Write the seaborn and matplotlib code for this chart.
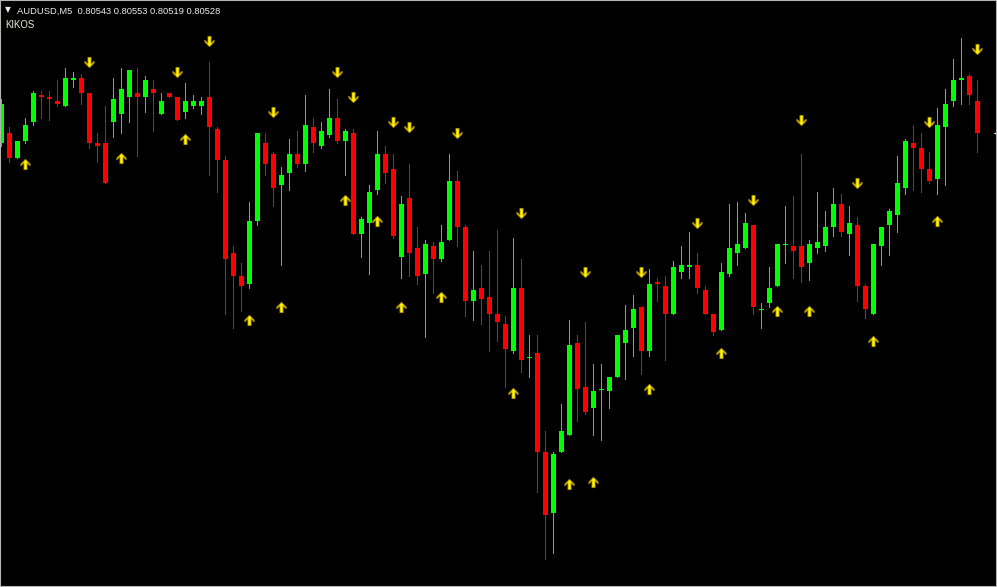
import numpy as np
import pandas as pd
import matplotlib
matplotlib.use("Agg")
import matplotlib.pyplot as plt
from matplotlib.path import Path
import seaborn as sns

symbol = "AUDUSD,M5"
indicator = "KIKOS"
base = 0.80000
point = 0.00001

# M5 bars, oldest first, prices in points above 0.80000
opens = [523, 528, 516, 524, 533, 546, 545, 543, 541, 553,
         554, 547, 523, 523, 533, 537, 545, 547, 545, 549,
         537, 547, 545, 538, 541, 541, 545, 530, 515, 471,
         460, 456, 486, 523, 518, 503, 509, 518, 513, 531,
         522, 527, 535, 524, 528, 480, 485, 501, 518, 511,
         469, 497, 473, 461, 474, 468, 477, 505, 483, 448,
         454, 450, 442, 437, 424, 454, 421, 423, 376, 347,
         376, 384, 428, 407, 397, 406, 405, 412, 428, 435,
         445, 424, 457, 455, 442, 462, 464, 465, 453, 442,
         434, 461, 471, 473, 484, 444, 447, 455, 475, 474,
         474, 466, 473, 474, 483, 494, 480, 484, 455, 442,
         474, 484, 489, 502, 523, 521, 511, 506, 531, 543,
         553, 555, 543]
highs = [544, 531, 524, 535, 548, 548, 548, 553, 559, 557,
         556, 547, 528, 541, 554, 559, 558, 559, 555, 553,
         547, 547, 545, 552, 546, 545, 562, 531, 517, 474,
         466, 495, 528, 528, 519, 512, 525, 529, 546, 535,
         533, 549, 544, 530, 530, 488, 503, 529, 522, 518,
         498, 513, 483, 477, 476, 484, 518, 510, 484, 472,
         465, 472, 482, 441, 478, 468, 432, 432, 386, 376,
         399, 439, 432, 438, 418, 418, 412, 432, 446, 451,
         445, 463, 459, 460, 467, 474, 481, 471, 455, 442,
         466, 494, 495, 490, 484, 447, 464, 475, 493, 498,
         518, 477, 500, 491, 502, 499, 493, 488, 456, 475,
         483, 492, 517, 525, 532, 528, 519, 540, 549, 563,
         573, 556, 553]
lows = [522, 514, 516, 523, 532, 535, 534, 541, 541, 550,
        542, 521, 514, 504, 526, 528, 533, 517, 538, 529,
        537, 545, 534, 535, 540, 537, 508, 500, 442, 435,
        443, 454, 484, 508, 493, 465, 501, 512, 510, 519,
        521, 526, 523, 508, 480, 469, 461, 499, 504, 478,
        459, 460, 456, 431, 452, 467, 477, 474, 441, 439,
        437, 424, 429, 407, 423, 414, 412, 357, 325, 328,
        376, 384, 391, 394, 384, 382, 397, 412, 411, 422,
        413, 422, 448, 420, 442, 459, 459, 452, 442, 432,
        434, 460, 465, 473, 442, 435, 445, 455, 466, 459,
        457, 458, 471, 472, 479, 479, 470, 448, 440, 442,
        465, 470, 481, 499, 501, 500, 504, 499, 503, 541,
        542, 542, 519]
closes = [542, 516, 524, 532, 547, 545, 544, 542, 554, 554,
          547, 523, 522, 504, 544, 549, 558, 545, 553, 547,
          543, 545, 534, 543, 543, 543, 531, 515, 468, 460,
          455, 486, 528, 513, 502, 508, 518, 513, 532, 523,
          529, 535, 524, 529, 480, 487, 500, 518, 509, 479,
          494, 471, 460, 475, 468, 476, 505, 483, 448, 453,
          449, 442, 438, 425, 454, 420, 421, 376, 346, 375,
          386, 427, 406, 395, 405, 406, 412, 432, 434, 444,
          424, 456, 456, 442, 464, 465, 465, 454, 442, 433,
          462, 473, 475, 485, 445, 444, 454, 475, 475, 472,
          464, 475, 476, 483, 494, 481, 485, 455, 444, 475,
          483, 491, 504, 524, 521, 511, 505, 532, 542, 553,
          554, 546, 528]

# KIKOS signals: bar index and arrow level (points above 0.80000)
sell_bars = [11, 22, 26, 34, 42, 44, 49, 51, 57, 65, 73, 80, 87, 94, 100, 107, 116, 122]
sell_levels = [562, 557, 572, 538, 557, 545, 533, 531, 528, 490, 462, 462, 485, 496, 534, 504, 533, 568]
buy_bars = [3, 15, 23, 31, 35, 43, 47, 50, 55, 64, 71, 74, 81, 90, 97, 101, 109, 117]
buy_levels = [513, 516, 525, 439, 445, 496, 486, 445, 450, 404, 361, 362, 406, 423, 443, 443, 429, 486]

sns.set_theme(style="dark", rc={"axes.facecolor": "black", "figure.facecolor": "black"})
plt.rcParams['font.family'] = ['Liberation Sans', 'DejaVu Sans']

o = base + np.array(opens) * point
h = base + np.array(highs) * point
l = base + np.array(lows) * point
c = base + np.array(closes) * point
bars = np.arange(len(opens))

fig = plt.figure(figsize=(9.97, 5.87), dpi=100)
ax = fig.add_axes([0, 0, 1, 1])
ax.set_facecolor('black')

# candles: 1px wicks, 5px bodies
colors = np.where(c >= o, '#00ff00', '#ff0000')
ax.vlines(bars, l, h, colors=colors, linewidth=0.72, antialiased=False)
body = np.abs(c - o)
body_h = np.maximum(body, 0.45 * point)
body_bottom = np.minimum(o, c) - (body_h - body) / 2
ax.bar(bars, body_h, bottom=body_bottom, width=0.625, color=colors,
       linewidth=0, antialiased=False, zorder=2)

# arrow markers
up_arrow = Path([(0, 0.5), (0.45, 0.05), (0.45, -0.12), (0.15, 0.18), (0.15, -0.5),
                 (-0.15, -0.5), (-0.15, 0.18), (-0.45, -0.12), (-0.45, 0.05), (0, 0.5)],
                closed=True)
down_arrow = Path(up_arrow.vertices * [1, -1], closed=True)

buys = pd.DataFrame({"bar": buy_bars, "price": base + np.array(buy_levels) * point})
sells = pd.DataFrame({"bar": sell_bars, "price": base + np.array(sell_levels) * point})
sns.scatterplot(data=buys, x="bar", y="price", marker=up_arrow, s=55, color='#ffff00',
                edgecolor='#b08800', linewidth=0.6, ax=ax, legend=False, zorder=3)
sns.scatterplot(data=sells, x="bar", y="price", marker=down_arrow, s=55, color='#ffff00',
                edgecolor='#b08800', linewidth=0.6, ax=ax, legend=False, zorder=3)

ax.set_xlim(-0.1625, 124.46)
ax.set_ylim(base + 311.8 * point, base + 591.33 * point)
ax.set_xticks([])
ax.set_yticks([])
ax.set_xlabel('')
ax.set_ylabel('')
ax.grid(False)
for side in ax.spines.values():
    side.set_visible(True)
    side.set_color('#b4b4b4')
    side.set_linewidth(1.5)

# current price mark on the right edge
ax.hlines(c[-1], 0.997, 1.0, transform=ax.get_yaxis_transform(), colors='white', linewidth=1)

W, H = 997, 587
fig.text(5 / W, 1 - 12.5 / H, "\u25bc", fontsize=5.5, color='#e8e8e8', va='baseline',
         family=['DejaVu Sans'])
fig.text(17 / W, 1 - 14 / H, f"{symbol}  {o[-1]:.5f} {h[-1]:.5f} {l[-1]:.5f} {c[-1]:.5f}",
         fontsize=6.75, color='#eeeeee', va='baseline')
fig.text(5 / W, 1 - 27.5 / H, indicator, fontsize=6.9, color='#f2ead8', va='baseline')

fig.savefig("out.png", dpi=100, facecolor='black')
